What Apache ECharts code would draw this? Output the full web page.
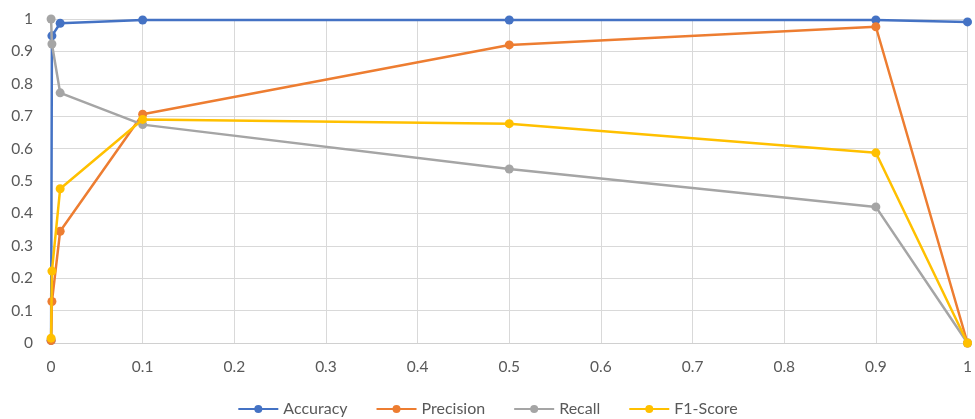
<!DOCTYPE html>
<html>
<head>
<meta charset="utf-8">
<script src="https://cdn.jsdelivr.net/npm/echarts@6/dist/echarts.min.js"></script>
<style>
  html, body { margin: 0; padding: 0; background: #fff; }
  #chart { width: 975px; height: 419px; }
</style>
</head>
<body>
<div id="chart"></div>
<script>
// Decision threshold values
const thresholds = [0.0001, 0.001, 0.01, 0.1, 0.5, 0.9, 1];

// Metric values at each threshold
const accuracy  = [0.008, 0.948, 0.987, 0.997, 0.997, 0.997, 0.991];
const precision = [0.0075, 0.128, 0.345, 0.706, 0.920, 0.976, 0];
const recall    = [1.000, 0.923, 0.772, 0.674, 0.537, 0.420, 0];
const f1Score   = [0.015, 0.222, 0.476, 0.690, 0.677, 0.587, 0];

const seriesNames = ['Accuracy', 'Precision', 'Recall', 'F1-Score'];
const seriesColors = ['#4472C4', '#ED7D31', '#A5A5A5', '#FFC000'];
const seriesData = [accuracy, precision, recall, f1Score];

const fontFamily = 'Lato, "Open Sans", sans-serif';
const fmt = v => (Math.round(v * 10) / 10).toString();

const chart = echarts.init(document.getElementById('chart'));
chart.setOption({
  animation: false,
  backgroundColor: '#ffffff',
  grid: { left: 51, right: 6, top: 19, bottom: 76, containLabel: false },
  xAxis: {
    type: 'value', min: 0, max: 1, interval: 0.1,
    axisLine: { show: true, lineStyle: { color: '#d0d0d0', width: 1 } },
    axisTick: { show: false },
    splitLine: { show: true, lineStyle: { color: '#d9d9d9', width: 1 } },
    axisLabel: { color: '#595959', fontSize: 15.5, fontFamily, margin: 16, formatter: fmt }
  },
  yAxis: {
    type: 'value', min: 0, max: 1, interval: 0.1,
    axisLine: { show: false },
    axisTick: { show: false },
    splitLine: { show: true, lineStyle: { color: '#d9d9d9', width: 1 } },
    axisLabel: { color: '#595959', fontSize: 15.5, fontFamily, margin: 18, formatter: fmt }
  },
  legend: {
    top: 396, left: 'center',
    itemWidth: 40, itemHeight: 10, itemGap: 28,
    textStyle: { color: '#595959', fontSize: 16, fontFamily },
    data: seriesNames
  },
  series: seriesNames.map((name, i) => ({
    name,
    type: 'line',
    data: thresholds.map((t, j) => [t, seriesData[i][j]]),
    color: seriesColors[i],
    symbol: 'circle',
    symbolSize: 9,
    lineStyle: { width: 2.5, color: seriesColors[i] },
    itemStyle: { color: seriesColors[i] },
    z: 2 + i
  }))
});
</script>
</body>
</html>
